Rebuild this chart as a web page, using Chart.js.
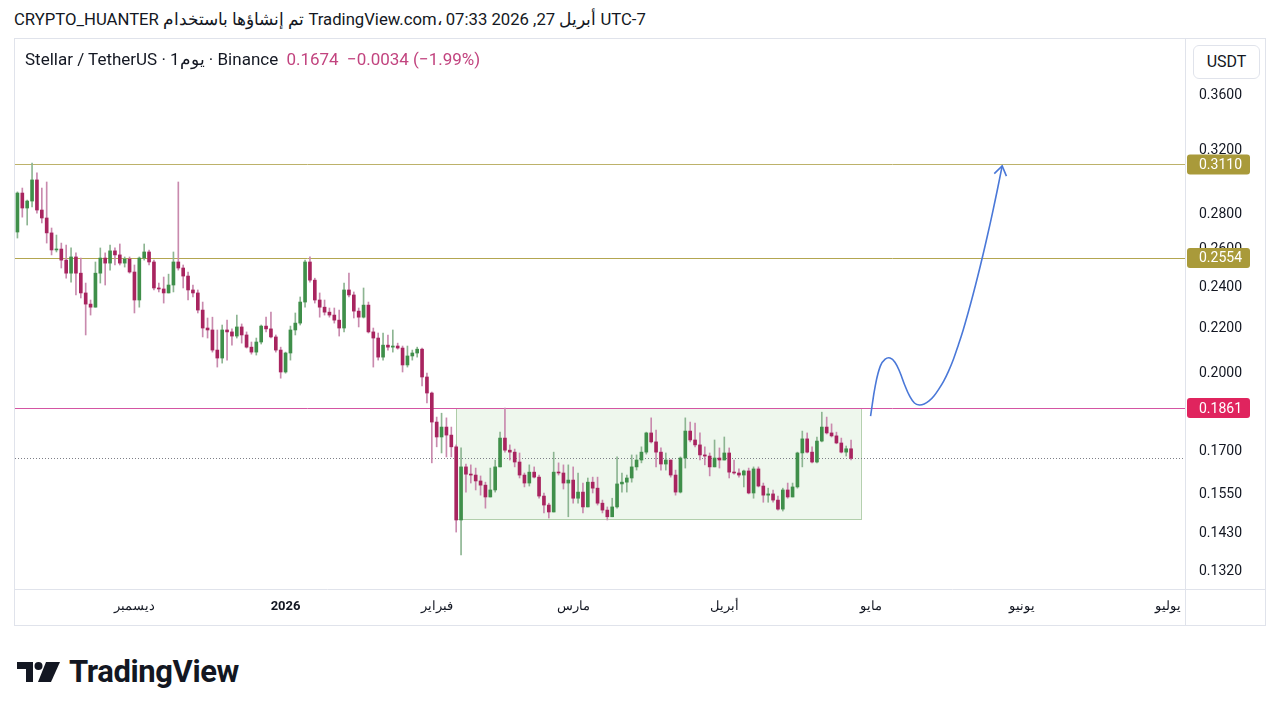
<!DOCTYPE html>
<html lang="ar">
<head>
<meta charset="UTF-8">
<title>Stellar / TetherUS</title>
<style>
  body { margin:0; width:1280px; height:710px; background:#fff; font-family: Roboto, "Noto Sans", sans-serif; color:#131722; position:relative; overflow:hidden; }
  #head { position:absolute; left:14px; top:9px; font-size:16.7px; direction:ltr; white-space:nowrap; line-height:22px; }
  #frame { position:absolute; left:14px; top:38px; width:1252px; height:588px; border:1px solid #e0e3eb; box-sizing:border-box; }
  #frame canvas { position:absolute; left:0; top:0; }
  #legend { position:absolute; left:25px; top:49px; font-size:17px; white-space:nowrap; direction:ltr; line-height:20px; z-index:2; }
  #legend .v { color:#c2447f; margin-left:4px; }
  #unit { position:absolute; left:1193px; top:45px; width:67px; height:34px; border:1px solid #e0e3eb; border-radius:6px; box-sizing:border-box; font-size:16px; text-align:center; line-height:32px; background:#fff; z-index:2; }
  #logo { position:absolute; left:17px; top:653px; display:flex; align-items:center; gap:8px; font-size:31px; font-weight:700; letter-spacing:-0.4px; }
</style>
</head>
<body>
<div id="head">CRYPTO_HUANTER تم إنشاؤها باستخدام TradingView.com، أبريل 27, 2026 07:33 UTC-7</div>
<div id="frame"><canvas id="chart" width="1250" height="586"></canvas></div>
<div id="legend">Stellar / TetherUS · 1يوم · Binance <span class="v">0.1674</span> <span class="v">−0.0034 (−1.99%)</span></div>
<div id="unit">USDT</div>
<div id="logo">
  <svg width="44" height="24" viewBox="0 0 44 24"><path d="M0 2H16V22H9V9H0Z" fill="#131722"/><circle cx="21.5" cy="6" r="4" fill="#131722"/><path d="M29 2H43L34 22H21Z" fill="#131722"/></svg>
  <span>TradingView</span>
</div>
<script src="https://cdn.jsdelivr.net/npm/chart.js"></script>
<script>
// daily XLM/USDT candles, 7 Nov 2025 .. 27 Apr 2026
const opens = [
  0.2697,0.2928,0.2837,0.2879,0.3010,0.2825,0.2778,0.2692,0.2597,0.2602,0.2542,0.2473,0.2559,0.2473,0.2372,0.2317,0.2302,0.2473,0.2553,0.2526,
  0.2592,0.2570,0.2526,0.2548,0.2479,0.2337,0.2553,0.2586,0.2532,0.2397,0.2392,0.2372,0.2412,0.2532,0.2500,0.2458,0.2387,0.2372,0.2288,0.2203,
  0.2194,0.2103,0.2068,0.2194,0.2185,0.2166,0.2208,0.2171,0.2116,0.2094,0.2139,0.2212,0.2199,0.2162,0.2103,0.2008,0.2090,0.2194,0.2226,0.2327,
  0.2532,0.2437,0.2337,0.2302,0.2278,0.2264,0.2240,0.2203,0.2387,0.2362,0.2283,0.2254,0.2312,0.2185,0.2157,0.2072,0.2125,0.2116,0.2121,0.2112,
  0.2038,0.2077,0.2090,0.2107,0.1987,0.1921,0.1807,0.1751,0.1788,0.1758,0.1715,0.1470,0.1644,0.1619,0.1616,0.1596,0.1582,0.1543,0.1566,0.1644,
  0.1747,0.1703,0.1696,0.1661,0.1616,0.1589,0.1626,0.1609,0.1546,0.1517,0.1495,0.1626,0.1623,0.1589,0.1599,0.1539,0.1559,0.1511,0.1592,0.1572,
  0.1523,0.1501,0.1480,0.1511,0.1586,0.1592,0.1606,0.1644,0.1668,0.1696,0.1766,0.1733,0.1696,0.1654,0.1668,0.1616,0.1559,0.1675,0.1773,0.1740,
  0.1722,0.1686,0.1682,0.1644,0.1675,0.1668,0.1693,0.1626,0.1623,0.1616,0.1630,0.1556,0.1637,0.1579,0.1549,0.1553,0.1533,0.1504,0.1566,0.1543,
  0.1576,0.1693,0.1744,0.1696,0.1661,0.1736,0.1788,0.1766,0.1755,0.1729,0.1696,0.1708
];
const highs = [
  0.2935,0.2959,0.2885,0.3119,0.3055,0.2959,0.2997,0.2720,0.2680,0.2635,0.2624,0.2608,0.2581,0.2553,0.2422,0.2337,0.2532,0.2608,0.2581,0.2624,
  0.2608,0.2630,0.2559,0.2559,0.2516,0.2559,0.2630,0.2597,0.2542,0.2422,0.2453,0.2468,0.2586,0.2997,0.2516,0.2479,0.2412,0.2387,0.2327,0.2250,
  0.2254,0.2194,0.2217,0.2240,0.2199,0.2264,0.2222,0.2185,0.2139,0.2157,0.2217,0.2254,0.2278,0.2171,0.2116,0.2094,0.2212,0.2274,0.2352,0.2542,
  0.2559,0.2447,0.2372,0.2337,0.2298,0.2298,0.2288,0.2422,0.2473,0.2377,0.2298,0.2397,0.2327,0.2203,0.2180,0.2180,0.2171,0.2194,0.2134,0.2121,
  0.2121,0.2103,0.2116,0.2112,0.2003,0.1925,0.1826,0.1841,0.1823,0.1788,0.1722,0.1711,0.1654,0.1651,0.1640,0.1613,0.1592,0.1640,0.1668,0.1769,
  0.1861,0.1722,0.1707,0.1693,0.1623,0.1651,0.1644,0.1616,0.1556,0.1523,0.1696,0.1658,0.1651,0.1651,0.1644,0.1623,0.1589,0.1606,0.1609,0.1609,
  0.1533,0.1511,0.1539,0.1679,0.1623,0.1616,0.1686,0.1686,0.1715,0.1769,0.1823,0.1777,0.1711,0.1693,0.1668,0.1633,0.1679,0.1823,0.1807,0.1803,
  0.1766,0.1715,0.1693,0.1740,0.1711,0.1751,0.1711,0.1668,0.1637,0.1633,0.1640,0.1644,0.1644,0.1589,0.1572,0.1566,0.1546,0.1572,0.1589,0.1589,
  0.1696,0.1773,0.1766,0.1715,0.1751,0.1845,0.1826,0.1800,0.1769,0.1747,0.1718,0.1740
];
const lows = [
  0.2663,0.2783,0.2737,0.2843,0.2807,0.2749,0.2635,0.2570,0.2586,0.2500,0.2447,0.2427,0.2362,0.2347,0.2171,0.2264,0.2302,0.2422,0.2412,0.2489,
  0.2516,0.2516,0.2505,0.2473,0.2274,0.2302,0.2542,0.2516,0.2387,0.2377,0.2322,0.2372,0.2377,0.2489,0.2397,0.2337,0.2352,0.2274,0.2162,0.2157,
  0.2094,0.2029,0.2046,0.2059,0.2125,0.2157,0.2134,0.2112,0.2085,0.2081,0.2130,0.2185,0.2157,0.2094,0.1982,0.2003,0.2059,0.2171,0.2217,0.2302,
  0.2427,0.2322,0.2254,0.2264,0.2254,0.2226,0.2166,0.2185,0.2352,0.2250,0.2208,0.2250,0.2180,0.2029,0.2059,0.2059,0.2103,0.2094,0.2107,0.2008,
  0.2029,0.2059,0.2072,0.1950,0.1881,0.1658,0.1715,0.1693,0.1679,0.1679,0.1433,0.1366,0.1559,0.1589,0.1566,0.1549,0.1507,0.1543,0.1559,0.1644,
  0.1696,0.1668,0.1644,0.1606,0.1576,0.1579,0.1606,0.1539,0.1492,0.1476,0.1495,0.1616,0.1569,0.1480,0.1523,0.1523,0.1492,0.1511,0.1556,0.1517,
  0.1492,0.1470,0.1480,0.1507,0.1559,0.1559,0.1592,0.1633,0.1658,0.1689,0.1729,0.1644,0.1633,0.1633,0.1609,0.1549,0.1556,0.1640,0.1733,0.1715,
  0.1668,0.1651,0.1613,0.1644,0.1640,0.1668,0.1606,0.1619,0.1609,0.1576,0.1553,0.1539,0.1576,0.1526,0.1526,0.1526,0.1501,0.1498,0.1539,0.1543,
  0.1572,0.1644,0.1693,0.1658,0.1658,0.1733,0.1762,0.1751,0.1726,0.1693,0.1682,0.1668
];
const closes = [
  0.2928,0.2837,0.2879,0.3010,0.2825,0.2778,0.2692,0.2597,0.2602,0.2542,0.2473,0.2559,0.2473,0.2372,0.2317,0.2302,0.2473,0.2553,0.2526,0.2592,
  0.2570,0.2526,0.2548,0.2479,0.2337,0.2553,0.2586,0.2532,0.2397,0.2392,0.2372,0.2412,0.2532,0.2500,0.2458,0.2387,0.2372,0.2288,0.2203,0.2194,
  0.2103,0.2068,0.2194,0.2185,0.2166,0.2208,0.2171,0.2116,0.2094,0.2139,0.2212,0.2199,0.2162,0.2103,0.2008,0.2090,0.2194,0.2226,0.2327,0.2532,
  0.2437,0.2337,0.2302,0.2278,0.2264,0.2240,0.2203,0.2387,0.2362,0.2283,0.2254,0.2312,0.2185,0.2157,0.2072,0.2125,0.2116,0.2121,0.2112,0.2038,
  0.2077,0.2090,0.2107,0.1987,0.1921,0.1807,0.1751,0.1788,0.1758,0.1715,0.1470,0.1644,0.1619,0.1616,0.1596,0.1582,0.1543,0.1566,0.1644,0.1747,
  0.1703,0.1696,0.1661,0.1616,0.1589,0.1626,0.1609,0.1546,0.1517,0.1495,0.1626,0.1623,0.1589,0.1599,0.1539,0.1559,0.1511,0.1592,0.1572,0.1523,
  0.1501,0.1480,0.1511,0.1586,0.1592,0.1606,0.1644,0.1668,0.1696,0.1766,0.1733,0.1696,0.1654,0.1668,0.1616,0.1559,0.1675,0.1773,0.1740,0.1722,
  0.1686,0.1682,0.1644,0.1675,0.1668,0.1693,0.1626,0.1623,0.1616,0.1630,0.1556,0.1637,0.1579,0.1549,0.1553,0.1533,0.1504,0.1566,0.1543,0.1576,
  0.1693,0.1744,0.1696,0.1661,0.1736,0.1788,0.1766,0.1755,0.1729,0.1696,0.1708,0.1674
];

// axis: one category per day, runs on past the last candle to early July
const firstDay = Date.UTC(2025, 10, 7);
const dayCount = 240;
const days = [];
for (let i = 0; i < dayCount; i++) days.push(new Date(firstDay + i * 86400000).toISOString().slice(0, 10));

const tickDates  = ['2025-12-01', '2026-01-01', '2026-02-01', '2026-03-01', '2026-04-01', '2026-05-01', '2026-06-01', '2026-07-01'];
const tickLabels = ['ديسمبر', '2026', 'فبراير', 'مارس', 'أبريل', 'مايو', 'يونيو', 'يوليو'];
const priceTicks = [0.3600, 0.3200, 0.2800, 0.2600, 0.2400, 0.2200, 0.2000, 0.1700, 0.1550, 0.1430, 0.1320];

// drawings on the chart
const levelPrices = [0.3110, 0.2554, 0.1861];
const levelColors = ['#bdb26a', '#b3a650', '#d455a3'];
const tagColors   = ['#a99a3a', '#a99a3a', '#e0245e'];
const boxDates  = ['2026-02-05', '2026-04-29'];
const boxPrices = [0.1861, 0.1472];
const pathDates = ['2026-05-01','2026-05-02','2026-05-03','2026-05-04','2026-05-05','2026-05-06','2026-05-07','2026-05-08','2026-05-09',
  '2026-05-10','2026-05-11','2026-05-12','2026-05-13','2026-05-14','2026-05-15','2026-05-16','2026-05-17','2026-05-18','2026-05-19',
  '2026-05-20','2026-05-21','2026-05-22','2026-05-23','2026-05-24','2026-05-25','2026-05-26','2026-05-27','2026-05-28'];
const pathPrices = [0.1830,0.1954,0.2033,0.2063,0.2068,0.2050,0.2008,0.1954,0.1909,
  0.1881,0.1873,0.1877,0.1889,0.1909,0.1937,0.1970,0.2012,0.2063,0.2125,
  0.2194,0.2274,0.2362,0.2458,0.2564,0.2680,0.2807,0.2947,0.3100];

const UP = '#3f8f4a', DOWN = '#a8245f', UP_WICK = '#8db592', DOWN_WICK = '#c98aae';

const up = closes.map((c, i) => c >= opens[i]);
const bodies = opens.map((o, i) => [o, closes[i]]);
const wicks = lows.map((l, i) => [Math.min(l, opens[i], closes[i]), Math.max(highs[i], opens[i], closes[i])]);
const pathPoints = pathDates.map((d, i) => ({ x: d, y: pathPrices[i] }));
const lastPrice = closes[closes.length - 1];

const overlay = {
  id: 'overlay',
  beforeDatasetsDraw(chart) {
    const { ctx, chartArea: a, scales: { x, y } } = chart;
    ctx.save();
    // consolidation box
    const bx0 = x.getPixelForValue(days.indexOf(boxDates[0]));
    const bx1 = x.getPixelForValue(days.indexOf(boxDates[1]));
    const by0 = y.getPixelForValue(boxPrices[0]);
    const by1 = y.getPixelForValue(boxPrices[1]);
    ctx.fillStyle = 'rgba(118, 190, 104, 0.12)';
    ctx.fillRect(bx0, by0, bx1 - bx0, by1 - by0);
    ctx.strokeStyle = 'rgba(120, 170, 110, 0.55)';
    ctx.lineWidth = 1;
    ctx.strokeRect(Math.round(bx0) + 0.5, Math.round(by0) + 0.5, Math.round(bx1 - bx0), Math.round(by1 - by0));
    // horizontal levels
    levelPrices.forEach((p, i) => {
      const py = Math.round(y.getPixelForValue(p)) + 0.5;
      ctx.strokeStyle = levelColors[i];
      ctx.beginPath(); ctx.moveTo(a.left, py); ctx.lineTo(a.right, py); ctx.stroke();
    });
    // last price dotted line
    const ly = Math.round(y.getPixelForValue(lastPrice)) + 0.5;
    ctx.strokeStyle = '#7d7f87';
    ctx.setLineDash([1, 2]);
    ctx.beginPath(); ctx.moveTo(a.left, ly); ctx.lineTo(a.right, ly); ctx.stroke();
    ctx.restore();
  },
  afterDatasetsDraw(chart) {
    // arrow head on the projected path
    const { ctx } = chart;
    const pts = chart.getDatasetMeta(2).data;
    const p1 = pts[pts.length - 1], p0 = pts[pts.length - 3];
    const ang = Math.atan2(p1.y - p0.y, p1.x - p0.x);
    ctx.save();
    ctx.strokeStyle = '#4a78d8';
    ctx.lineWidth = 1.6;
    ctx.beginPath();
    ctx.moveTo(p1.x - 11 * Math.cos(ang - 0.6), p1.y - 11 * Math.sin(ang - 0.6));
    ctx.lineTo(p1.x, p1.y);
    ctx.lineTo(p1.x - 11 * Math.cos(ang + 0.6), p1.y - 11 * Math.sin(ang + 0.6));
    ctx.stroke();
    ctx.restore();
  },
  afterDraw(chart) {
    const { ctx, chartArea: a, scales: { y }, width, height } = chart;
    ctx.save();
    ctx.strokeStyle = '#e0e3eb';
    ctx.lineWidth = 1;
    ctx.beginPath();
    ctx.moveTo(a.right + 0.5, 0); ctx.lineTo(a.right + 0.5, height);
    ctx.moveTo(0, a.bottom + 0.5); ctx.lineTo(width, a.bottom + 0.5);
    ctx.stroke();
    // price tags on the axis
    ctx.font = '14px Roboto';
    ctx.textBaseline = 'middle';
    levelPrices.forEach((p, i) => {
      const py = y.getPixelForValue(p);
      ctx.fillStyle = tagColors[i];
      ctx.beginPath();
      ctx.roundRect(a.right + 2, py - 10, 63, 20, 3);
      ctx.fill();
      ctx.fillStyle = '#fff';
      ctx.fillText(p.toFixed(4), a.right + 14, py + 1);
    });
    ctx.restore();
  }
};

new Chart(document.getElementById('chart'), {
  data: {
    labels: days,
    datasets: [
      { type: 'bar', data: wicks, backgroundColor: up.map(u => u ? UP_WICK : DOWN_WICK), barThickness: 1, grouped: false, order: 2 },
      { type: 'bar', data: bodies, backgroundColor: up.map(u => u ? UP : DOWN), barThickness: 3, minBarLength: 1, grouped: false, order: 1 },
      { type: 'line', data: pathPoints, borderColor: '#4a78d8', borderWidth: 1.6, pointRadius: 0, tension: 0.4, order: 0 }
    ]
  },
  options: {
    responsive: false,
    animation: false,
    layout: { padding: 0 },
    plugins: { legend: { display: false }, tooltip: { enabled: false } },
    scales: {
      x: {
        offset: true,
        grid: { display: false, drawTicks: false },
        border: { display: false },
        afterFit(s) { s.height = 36; s.paddingLeft = 0; s.paddingRight = 0; },
        ticks: {
          autoSkip: false,
          maxRotation: 0,
          padding: 10,
          color: '#131722',
          font: ctx => ({ family: 'Roboto', size: 13, weight: ctx.tick && ctx.tick.label === '2026' ? 'bold' : 'normal' }),
          callback(value) {
            const k = tickDates.indexOf(this.getLabelForValue(value));
            return k >= 0 ? tickLabels[k] : null;
          }
        }
      },
      y: {
        type: 'logarithmic',
        position: 'right',
        min: 0.1271,
        max: 0.4051,
        grid: { display: false, drawTicks: false },
        border: { display: false },
        afterFit(s) { s.width = 80; s.paddingTop = 0; s.paddingBottom = 0; },
        afterBuildTicks(s) { s.ticks = priceTicks.map(v => ({ value: v })); },
        ticks: {
          padding: 14,
          color: '#131722',
          font: { family: 'Roboto', size: 14 },
          callback: v => Number(v).toFixed(4)
        }
      }
    }
  },
  plugins: [overlay]
});
</script>
</body>
</html>
